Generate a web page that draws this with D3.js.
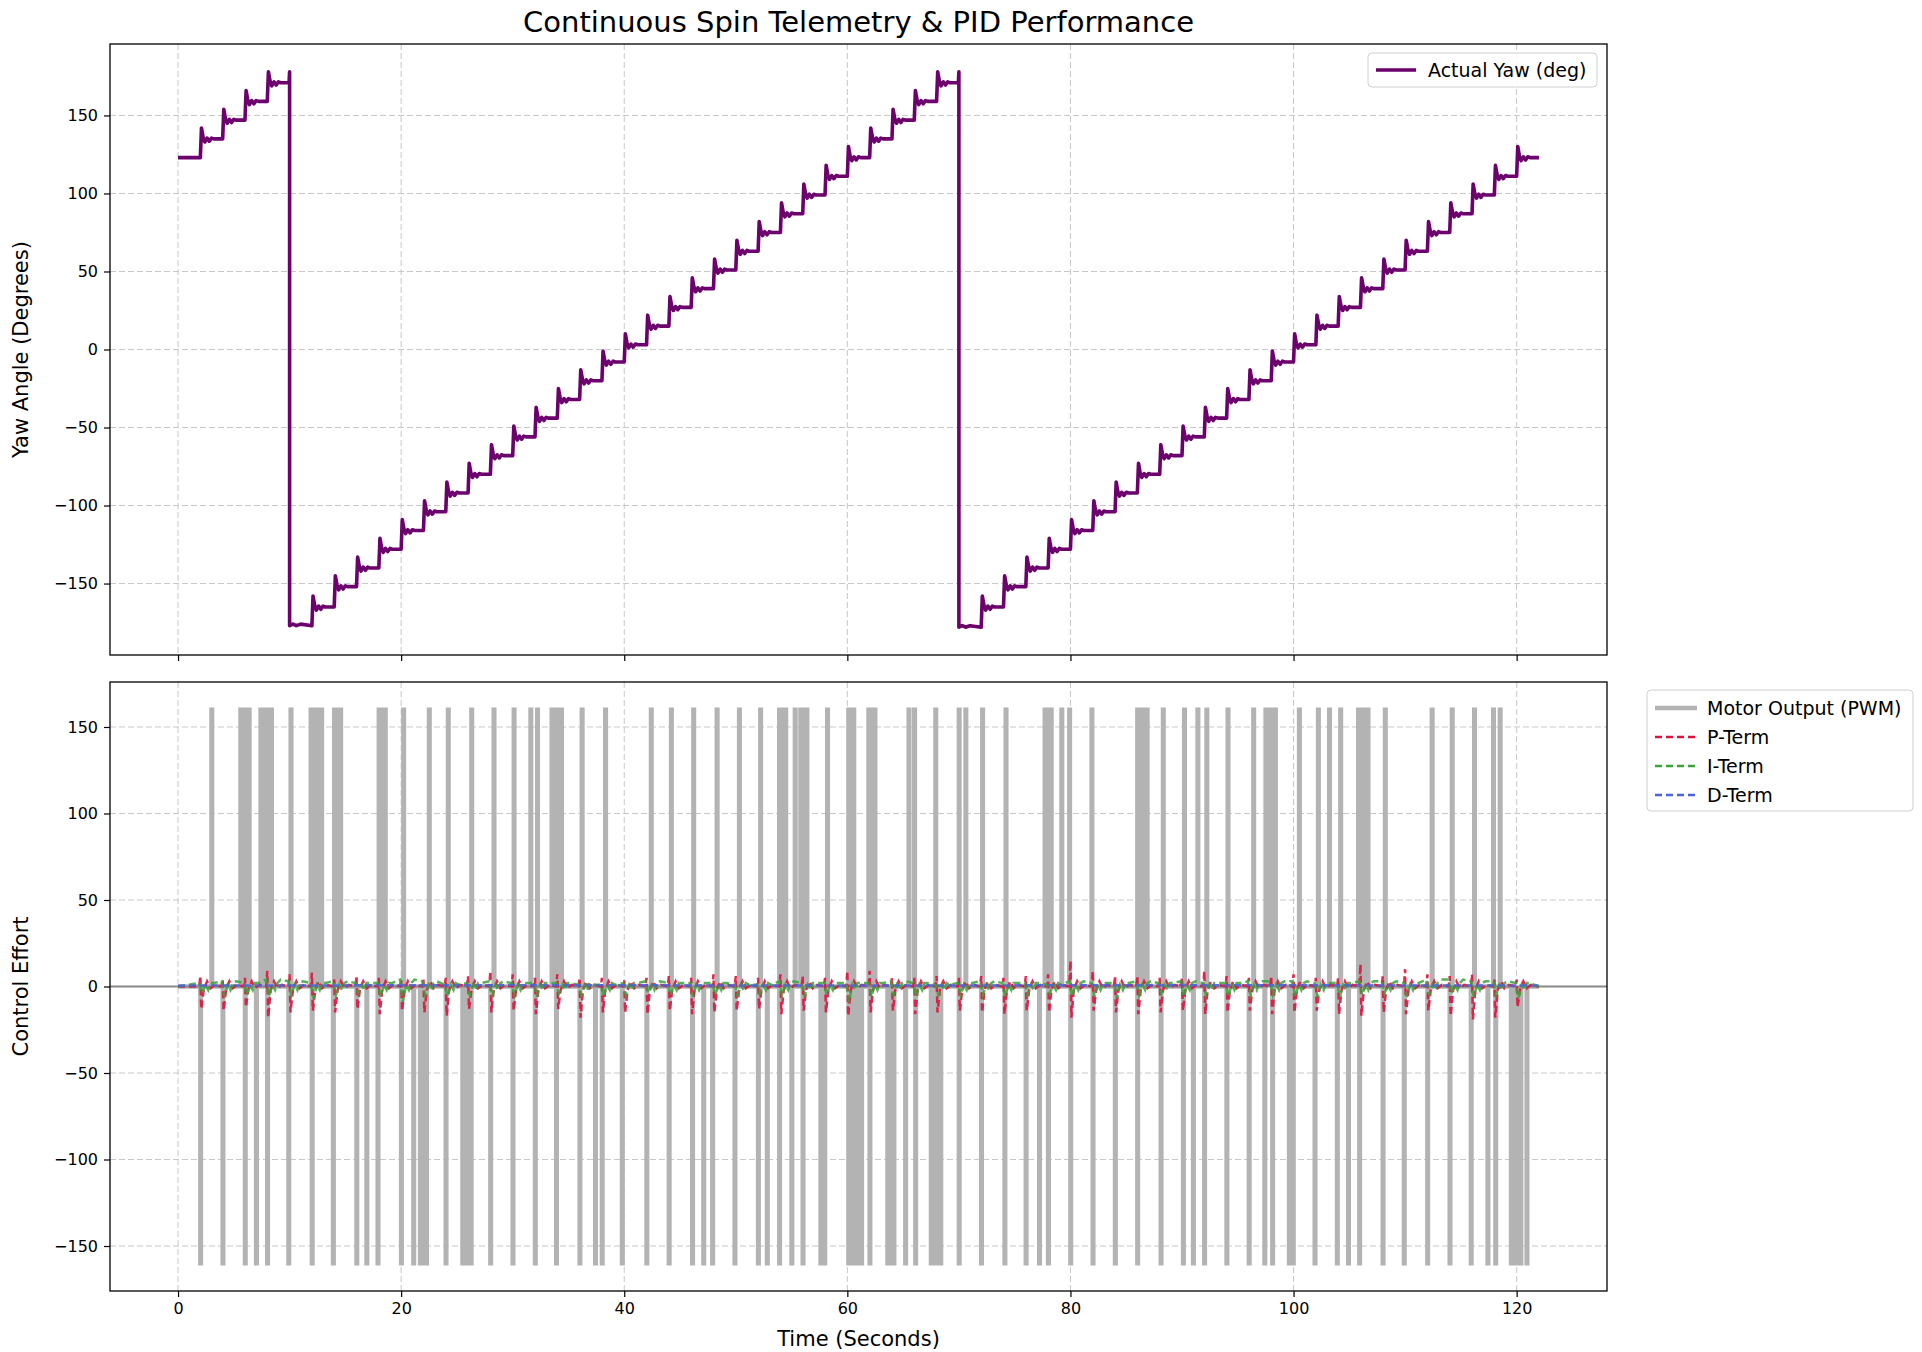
<!DOCTYPE html>
<html>
<head>
<meta charset="utf-8">
<script src="https://cdn.jsdelivr.net/npm/d3@7"></script>
<style>
  body { margin: 0; background: #fff; }
  svg text { font-family: "DejaVu Sans", sans-serif; }
</style>
</head>
<body>
<div id="chart"></div>
<script>
// yaw: one level per step (every 2 s), wraps at 10 s and 70 s
const stepTimes = [0, 2, 4, 6, 8, 10, 12, 14, 16, 18, 20, 22, 24, 26, 28, 30, 32, 34, 36, 38, 40,
  42, 44, 46, 48, 50, 52, 54, 56, 58, 60, 62, 64, 66, 68, 70, 72, 74, 76, 78, 80,
  82, 84, 86, 88, 90, 92, 94, 96, 98, 100, 102, 104, 106, 108, 110, 112, 114, 116, 118, 120];
const yawLevels = [123, 135, 147, 159, 171, -177, -165, -152, -140, -128, -116, -104, -92, -80, -68, -56, -44, -32, -20, -8, 3,
  15, 27, 39, 51, 63, 75, 87, 99, 111, 123, 135, 147, 159, 171, -178, -165, -152, -140, -128, -116,
  -104, -92, -80, -68, -56, -44, -32, -20, -8, 3, 15, 27, 39, 51, 63, 75, 87, 99, 111, 123];
const yawEnd = 122;
// overshoot after each step: [dt, offset]
const yawTransient = [[0.1, 7], [0.25, 1], [0.4, -2], [0.6, 0.5], [0.8, -1.5], [1.0, 0.5], [1.2, 0]];

// motor pulses, [start, end] in seconds
const motorUp = [[3.0, 3.05], [5.6, 6.4], [7.4, 7.7], [7.9, 8.4], [10.1, 10.15], [11.9, 12.9], [14.0, 14.6],
  [18.0, 18.6], [20.2, 20.25], [22.5, 22.55], [24.2, 24.25], [26.3, 26.35], [28.3, 28.35], [30.1, 30.15],
  [31.6, 31.65], [32.2, 32.25], [33.5, 34.4], [36.2, 36.25], [38.3, 38.35], [42.4, 42.45], [44.2, 44.25],
  [46.2, 46.25], [48.3, 48.35], [50.3, 50.35], [52.2, 52.25], [53.9, 54.5], [55.3, 55.35], [55.8, 56.4],
  [58.2, 58.25], [60.1, 60.6], [61.9, 62.5], [65.5, 65.55], [66.0, 66.05], [67.9, 67.95], [70.0, 70.05],
  [70.6, 70.65], [72.1, 72.15], [74.2, 74.25], [77.7, 78.3], [79.2, 79.25], [79.9, 79.95], [81.9, 81.95],
  [86.0, 86.9], [88.3, 88.35], [90.2, 90.25], [91.4, 91.45], [92.2, 92.25], [94.1, 94.15], [96.4, 96.45],
  [97.5, 98.4], [100.5, 100.55], [102.2, 102.25], [103.2, 103.25], [104.2, 104.25], [105.8, 106.7],
  [108.2, 108.25], [112.4, 112.45], [114.2, 114.25], [116.2, 116.25], [117.9, 117.95], [118.5, 118.55]];
const motorDown = [[2.0, 2.05], [4.0, 4.05], [6.0, 6.05], [7.0, 7.05], [8.0, 8.05], [9.9, 9.95], [12.0, 12.05],
  [13.9, 13.95], [16.0, 16.05], [16.9, 16.95], [17.9, 17.95], [20.0, 20.05], [21.1, 21.15], [21.7, 22.3],
  [24.0, 24.05], [25.5, 26.3], [28.0, 28.05], [30.0, 30.05], [32.0, 32.05], [33.9, 33.95], [36.0, 36.05],
  [37.4, 37.45], [38.0, 38.05], [39.8, 39.85], [42.0, 42.05], [44.0, 44.05], [46.1, 46.15], [47.1, 47.15],
  [47.9, 47.95], [49.9, 49.95], [52.0, 52.05], [52.8, 52.85], [53.9, 53.95], [55.0, 55.05], [56.0, 56.05],
  [57.6, 58.0], [60.1, 61.3], [62.0, 62.05], [63.6, 64.2], [65.2, 65.25], [66.1, 66.15], [67.5, 68.4],
  [70.0, 70.05], [72.0, 72.05], [74.1, 74.15], [76.0, 76.05], [77.2, 77.25], [78.0, 78.05], [80.0, 80.05],
  [82.0, 82.05], [84.0, 84.05], [86.0, 86.05], [88.1, 88.15], [90.1, 90.15], [91.0, 91.05], [92.0, 92.05],
  [94.0, 94.05], [96.0, 96.05], [97.4, 97.45], [98.1, 98.15], [99.6, 100.0], [101.9, 101.95], [103.9, 103.95],
  [104.9, 104.95], [105.9, 105.95], [108.0, 108.05], [109.9, 109.95], [112.0, 112.05], [114.0, 114.05],
  [115.9, 115.95], [117.4, 117.45], [118.1, 118.15], [119.5, 120.4], [120.9, 120.95]];
const motorEnd = 122;

// PID terms: one peak / dip per yaw step (index matches stepTimes from 2 s on)
const pPeak = [6, 4, 5, 9, 7, 8, 4, 6, 5, 4, 4, 5, 6, 9, 7, 5, 7, 5, 5, 4,
  5, 6, 5, 7, 6, 5, 7, 6, 5, 9, 9, 5, 5, 6, 5, 6, 5, 6, 7, 15,
  9, 6, 6, 5, 5, 9, 6, 5, 6, 7, 5, 5, 13, 6, 10, 7, 6, 7, 4, 4];
const pDip = [-13, -14, -12, -18, -15, -14, -15, -13, -16, -14, -15, -17, -13, -15, -14, -16, -13, -18, -15, -15,
  -16, -14, -16, -15, -14, -13, -16, -14, -15, -17, -15, -14, -16, -15, -14, -15, -16, -14, -15, -18,
  -14, -15, -16, -15, -14, -16, -15, -14, -16, -15, -14, -16, -17, -15, -16, -14, -17, -19, -18, -12];
const iLevel = [2, 3, 2, 4, 3, 2, 3, 2, 2, 4, 3, 1, 2, 3, 2, 2, 2, 1, 1, 2,
  3, 2, 2, 2, 1, 1, 3, 2, 2, 2, 2, 3, 2, 1, 2, 3, 2, 2, 1, 3,
  2, 2, 3, 2, 3, 2, 2, 3, 3, 3, 2, 2, 3, 3, 2, 4, 4, 3, 3, 2];
const iDip = [-4, -6, -5, -6, -5, -7, -5, -4, -6, -9, -5, -6, -5, -6, -5, -6, -4, -5, -6, -5,
  -4, -5, -6, -5, -5, -4, -5, -6, -5, -9, -6, -5, -6, -5, -5, -5, -6, -5, -4, -6,
  -6, -7, -5, -4, -6, -5, -6, -5, -5, -6, -6, -6, -5, -4, -6, -5, -4, -6, -5, -7];
const dTerm = [[0, 0.5], [30, 0.8], [60, 0.5], [90, 0.8], [122, 0.5]];

const xTicks = [0, 20, 40, 60, 80, 100, 120];
const yawTicks = [-150, -100, -50, 0, 50, 100, 150];
const effortTicks = [-150, -100, -50, 0, 50, 100, 150];

const W = 1922, H = 1352;
const plotL = 110, plotR = 1607;
const top1 = 44, bot1 = 655, top2 = 682, bot2 = 1291;

const svg = d3.select("#chart").append("svg")
  .attr("width", W).attr("height", H);

const x = d3.scaleLinear().domain([-6.1, 128.1]).range([plotL, plotR]);
const yYaw = d3.scaleLinear().domain([-195.8, 195.8]).range([bot1, top1]);
const yEff = d3.scaleLinear().domain([-176, 176]).range([bot2, top2]);

// build yaw points from the step levels
const yawPts = [];
stepTimes.forEach((t, i) => {
  const L = yawLevels[i];
  const prev = i > 0 ? yawLevels[i - 1] : L;
  const next = i + 1 < stepTimes.length ? stepTimes[i + 1] : yawEnd;
  if (i > 0 && L < prev) {
    // wrap-around: spike up then drop
    yawPts.push([t - 0.05, prev], [t, 178], [t, L]);
    yawPts.push([t + 0.3, L + 1], [t + 0.6, L], [t + 1.0, L + 1], [next, L]);
    return;
  }
  yawPts.push([t, prev]);
  if (i === 0) { yawPts.push([next, L]); return; }
  yawTransient.forEach(([dt, o]) => yawPts.push([t + dt, L + o]));
  yawPts.push([next, L]);
});

// motor pulses
const motorPts = [[0, 0]];
const pulses = motorUp.map(p => [p[0], p[1], 160]).concat(motorDown.map(p => [p[0], p[1], -160]))
  .sort((a, b) => a[0] - b[0]);
pulses.forEach(([a, b, v]) => {
  motorPts.push([a, 0], [a, v], [b, v], [b, 0]);
});
motorPts.push([motorEnd, 0]);

// P and I terms
const pPts = [[0, 0]], iPts = [[0, 0]];
stepTimes.slice(1).forEach((t, k) => {
  pPts.push([t - 0.1, 0], [t, pPeak[k]], [t + 0.08, pDip[k]], [t + 0.3, -2], [t + 0.6, 3], [t + 0.9, -1], [t + 1.3, 1], [t + 1.9, 0]);
  iPts.push([t - 0.1, iLevel[k]], [t + 0.15, iDip[k]], [t + 0.45, 1], [t + 0.7, -2], [t + 0.9, 2], [t + 1.2, iLevel[k]]);
});
pPts.push([122, 0]); iPts.push([122, 0]);

function panel(yScale, yTop, yBot, ticks, showX) {
  const g = svg.append("g");
  g.selectAll(".gx").data(xTicks).join("line")
    .attr("x1", d => x(d)).attr("x2", d => x(d)).attr("y1", yTop).attr("y2", yBot)
    .attr("stroke", "#c8c8c8").attr("stroke-dasharray", "6,3").attr("stroke-width", 1);
  g.selectAll(".gy").data(ticks).join("line")
    .attr("x1", plotL).attr("x2", plotR).attr("y1", d => yScale(d)).attr("y2", d => yScale(d))
    .attr("stroke", "#c8c8c8").attr("stroke-dasharray", "6,3").attr("stroke-width", 1);
  const ax = g.append("g").attr("transform", `translate(0,${yBot})`)
    .call(d3.axisBottom(x).tickValues(xTicks).tickSize(6).tickPadding(6).tickFormat(showX ? d3.format("d") : ""));
  const ay = g.append("g").attr("transform", `translate(${plotL},0)`)
    .call(d3.axisLeft(yScale).tickValues(ticks).tickSize(6).tickPadding(6).tickFormat(d => d < 0 ? "\u2212" + Math.abs(d) : d));
  [ax, ay].forEach(a => {
    a.select(".domain").remove();
    a.selectAll("text").style("font-size", "16px").attr("fill", "#000");
    a.selectAll("line").attr("stroke", "#000").attr("stroke-width", 1.2);
  });
  return g;
}

function frame(yTop, yBot) {
  svg.append("rect").attr("x", plotL).attr("y", yTop).attr("width", plotR - plotL).attr("height", yBot - yTop)
    .attr("fill", "none").attr("stroke", "#000").attr("stroke-width", 1.3);
}

// top panel
panel(yYaw, top1, bot1, yawTicks, false);
svg.append("clipPath").attr("id", "c1").append("rect")
  .attr("x", plotL).attr("y", top1).attr("width", plotR - plotL).attr("height", bot1 - top1);
svg.append("path").datum(yawPts).attr("clip-path", "url(#c1)")
  .attr("fill", "none").attr("stroke", "#6c006c").attr("stroke-width", 3.6).attr("stroke-linejoin", "round")
  .attr("d", d3.line().x(d => x(d[0])).y(d => yYaw(d[1])));
frame(top1, bot1);

// bottom panel
panel(yEff, top2, bot2, effortTicks, true);
const lineE = d3.line().x(d => x(d[0])).y(d => yEff(d[1]));
// long pulses look solid in the reference
svg.selectAll(".wide").data(pulses.filter(p => p[1] - p[0] > 0.1)).join("rect")
  .attr("x", d => x(d[0])).attr("width", d => x(d[1]) - x(d[0]))
  .attr("y", d => yEff(Math.max(0, d[2]))).attr("height", d => Math.abs(yEff(d[2]) - yEff(0)))
  .attr("fill", "#b3b3b3");
svg.append("path").datum(motorPts).attr("fill", "none").attr("stroke", "#b3b3b3")
  .attr("stroke-width", 4.5).attr("d", lineE);
svg.append("line").attr("x1", plotL).attr("x2", plotR).attr("y1", yEff(0)).attr("y2", yEff(0))
  .attr("stroke", "#888").attr("stroke-width", 1.8);
svg.append("path").datum(pPts).attr("fill", "none").attr("stroke", "#dc143c").attr("opacity", 0.9)
  .attr("stroke-width", 2.5).attr("stroke-dasharray", "7,4").attr("d", lineE);
svg.append("path").datum(iPts).attr("fill", "none").attr("stroke", "#3aa33a").attr("opacity", 0.85)
  .attr("stroke-width", 2.5).attr("stroke-dasharray", "7,4").attr("d", lineE);
svg.append("path").datum(dTerm).attr("fill", "none").attr("stroke", "#4a63d8").attr("opacity", 0.85)
  .attr("stroke-width", 2.5).attr("stroke-dasharray", "7,4").attr("d", lineE);
frame(top2, bot2);

// titles and labels
svg.append("text").attr("x", (plotL + plotR) / 2).attr("y", 32).attr("text-anchor", "middle")
  .style("font-size", "29px").text("Continuous Spin Telemetry & PID Performance");
svg.append("text").attr("transform", `translate(28,${(top1 + bot1) / 2}) rotate(-90)`)
  .attr("text-anchor", "middle").style("font-size", "21px").text("Yaw Angle (Degrees)");
svg.append("text").attr("transform", `translate(28,${(top2 + bot2) / 2}) rotate(-90)`)
  .attr("text-anchor", "middle").style("font-size", "21px").text("Control Effort");
svg.append("text").attr("x", (plotL + plotR) / 2).attr("y", 1346).attr("text-anchor", "middle")
  .style("font-size", "21px").text("Time (Seconds)");

// legend top
const lg1 = svg.append("g").attr("transform", "translate(1368,53)");
lg1.append("rect").attr("width", 229).attr("height", 34).attr("rx", 4)
  .attr("fill", "#fff").attr("fill-opacity", 0.85).attr("stroke", "#d0d0d0");
lg1.append("line").attr("x1", 8).attr("x2", 48).attr("y1", 17).attr("y2", 17)
  .attr("stroke", "#6c006c").attr("stroke-width", 3.6);
lg1.append("text").attr("x", 60).attr("y", 24).style("font-size", "19px").text("Actual Yaw (deg)");

// legend bottom
const legendItems = [
  { name: "Motor Output (PWM)", color: "#b3b3b3", dash: null, w: 4.5 },
  { name: "P-Term", color: "#dc143c", dash: "7,4", w: 2.5 },
  { name: "I-Term", color: "#3aa33a", dash: "7,4", w: 2.5 },
  { name: "D-Term", color: "#4a63d8", dash: "7,4", w: 2.5 }
];
const lg2 = svg.append("g").attr("transform", "translate(1647,690)");
lg2.append("rect").attr("width", 266).attr("height", 121).attr("rx", 4)
  .attr("fill", "#fff").attr("stroke", "#d0d0d0");
const li = lg2.selectAll(".li").data(legendItems).join("g")
  .attr("transform", (d, i) => `translate(0,${18 + i * 29})`);
li.append("line").attr("x1", 8).attr("x2", 50).attr("y1", 0).attr("y2", 0)
  .attr("stroke", d => d.color).attr("stroke-width", d => d.w).attr("stroke-dasharray", d => d.dash);
li.append("text").attr("x", 60).attr("y", 7).style("font-size", "19px").text(d => d.name);
</script>
</body>
</html>
